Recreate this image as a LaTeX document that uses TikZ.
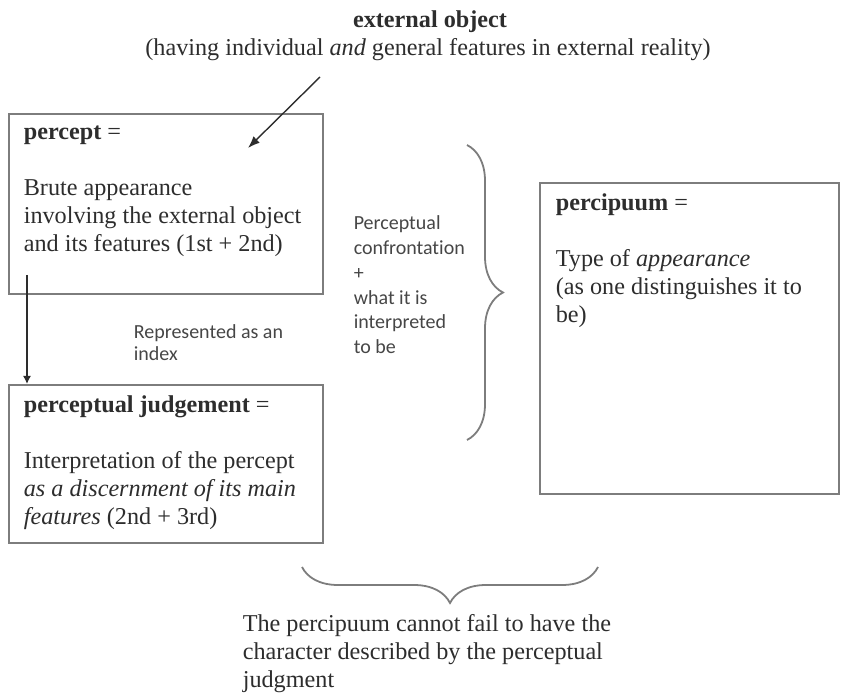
\documentclass[tikz,border=0pt]{standalone}
\usepackage{fontspec}
\setmainfont{Liberation Serif}
\newfontfamily\notefont[Ligatures=NoCommon]{Carlito}
\usetikzlibrary{arrows.meta,decorations.pathreplacing}
\definecolor{inkgray}{RGB}{45,45,45}
\definecolor{notegray}{RGB}{70,70,70}
\definecolor{linegray}{RGB}{125,125,125}

\begin{document}
\begin{tikzpicture}[x=0.5pt,y=-0.5pt,thick]
      \tikzstyle{box}=[draw=linegray,line width=0.9pt,inner sep=0pt,
        anchor=north west]
      \tikzstyle{txt}=[text=inkgray,inner sep=0pt,anchor=north west,
        align=left,font=\fontsize{12.1}{14}\selectfont]
      \tikzstyle{note}=[text=notegray,inner sep=0pt,anchor=north west,
        align=left,font=\notefont\fontsize{10}{12.4}\selectfont]

      \useasboundingbox (0,0) rectangle (845,694);

      \node[txt,anchor=center] (ext) at (430,22) {\textbf{external object}};
      \node[txt,anchor=center] (extsub) at (428,50)
           {(having individual \textit{and} general features in external reality)};

      \node[box,minimum width=157pt,minimum height=90pt] (percept) at (8,113) {};
      \node[box,minimum width=157pt,minimum height=79pt] (judge) at (8,384) {};
      \node[box,minimum width=149.5pt,minimum height=155.5pt] (percipuum) at (539,182) {};

      \node[txt] (perceptT) at (23,125) {\textbf{percept} =\\[14pt]
        Brute appearance\\ involving the external object\\
        and its features (1st + 2nd)};
      \node[txt] (judgeT) at (23,395) {\textbf{perceptual judgement} =\\[14pt]
        Interpretation of the percept\\
        \textit{as a discernment of its main}\\
        \textit{features} (2nd + 3rd)};
      \node[txt] (percipuumT) at (555,193) {\textbf{percipuum} =\\[14pt]
        Type of \textit{appearance}\\ (as one distinguishes it to\\ be)};

      \node[note] (confront) at (353,215) {Perceptual\\ confrontation\\ +\\
        what it is\\ interpreted\\ to be};
      \node[note,font=\notefont\fontsize{10}{11}\selectfont] (index) at (133,324)
           {Represented as an\\ index};

      \node[txt] (verdict) at (242,614) {The percipuum cannot fail to have the\\
        character described by the perceptual\\ judgment};

      \tikzstyle{ar}=[-{Latex[length=6pt,width=4.5pt]},draw=inkgray,line width=0.7pt]
      \tikzstyle{brc}=[draw=linegray,line width=0.9pt,decorate,
        decoration={brace,amplitude=18pt}]

      \coordinate (extfoot) at (320,77);
      \coordinate (extin) at (248,148);
      \coordinate (pfoot) at (27,275);

      \draw[ar] (extfoot) -- (extin);
      \draw[ar,-{Latex[length=4pt,width=4pt]}] (pfoot) -- (pfoot |- judge.north);

      \draw[brc] (467,145) -- (467,440);
      \draw[brc] (598,567) -- (302,567);

    \end{tikzpicture}
\end{document}
